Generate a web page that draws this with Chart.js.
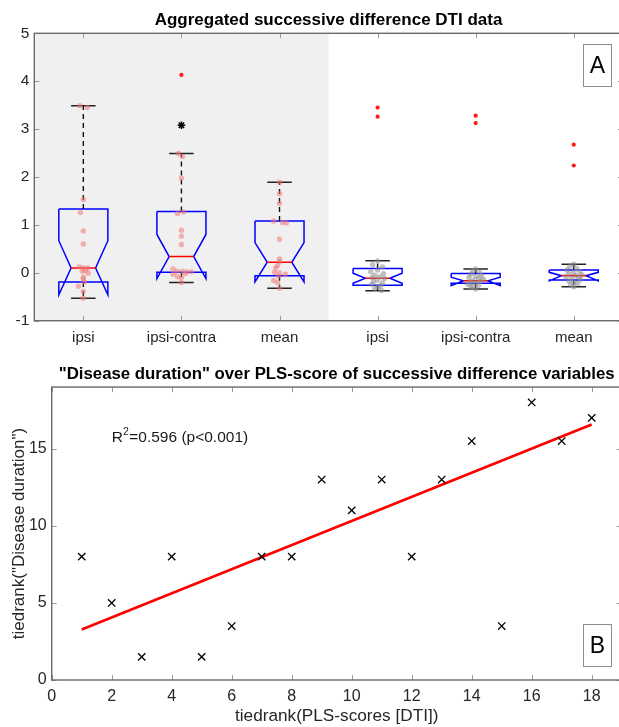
<!DOCTYPE html>
<html>
<head>
<meta charset="utf-8">
<script src="https://cdn.jsdelivr.net/npm/chart.js@4.4.1/dist/chart.umd.min.js"></script>
<style>
  html, body { margin: 0; padding: 0; background: #fff; overflow: hidden; width: 619px; height: 727px; }
  #boxChart { position: absolute; left: 0; top: 0; }
  #rankChart { position: absolute; left: 0; top: 350px; }
</style>
</head>
<body>
<canvas id="boxChart" width="630" height="350"></canvas>
<canvas id="rankChart" width="630" height="377"></canvas>
<script>
// ---- panel A: box plot statistics (one entry per group) ----
var groupNames = ["ipsi", "ipsi-contra", "mean", "ipsi", "ipsi-contra", "mean"];
var whiskerLow  = [-0.53, -0.20, -0.325, -0.375, -0.34, -0.29];
var boxQ1       = [-0.19,  0.01, -0.06,  -0.26,  -0.22, -0.15];
var notchLow    = [-0.46, -0.12, -0.19,  -0.22,  -0.27, -0.17];
var medians     = [ 0.10,  0.34,  0.22,  -0.115, -0.167, -0.06];
var notchHigh   = [ 0.67,  0.80,  0.63,  -0.01,  -0.09,  0.01];
var boxQ3       = [ 1.33,  1.28,  1.08,   0.09,  -0.013, 0.056];
var whiskerHigh = [ 3.49,  2.49,  1.89,   0.25,   0.077, 0.18];
var outlierValues = [[], [4.13], [], [3.45, 3.26], [3.28, 3.125], [2.675, 2.24]];
var starMark = [{ x: 2, y: 3.08 }];

// individual observations and their horizontal jitter (category units)
var values1 = [3.49, 3.45, 1.53, 1.26, 0.875, 0.60, 0.12, 0.10, 0.10, 0.05, 0.03, -0.01, -0.09, -0.13, -0.19, -0.28, -0.39, -0.53];
var jitter1 = [-0.035, 0.04, 0.0, -0.03, 0.0, 0.0, -0.04, 0.0, 0.045, 0.02, -0.01, 0.05, 0.0, 0.0, 0.01, -0.05, 0.0, 0.0];
var values2 = [2.49, 2.43, 1.98, 1.27, 1.24, 0.89, 0.765, 0.59, 0.08, 0.035, 0.03, 0.025, 0.02, -0.02, -0.03, -0.08, -0.10, -0.20];
var jitter2 = [-0.03, 0.01, 0.0, 0.02, -0.04, 0.0, 0.0, 0.0, -0.085, -0.044, 0.007, 0.05, 0.1, 0.04, -0.085, -0.04, 0.0, 0.0];
var values3 = [1.89, 1.65, 1.45, 1.08, 1.05, 1.04, 0.70, 0.29, 0.23, 0.15, 0.10, 0.01, 0.0, -0.03, -0.07, -0.16, -0.20, -0.32];
var jitter3 = [0.0, 0.0, 0.0, -0.06, 0.03, 0.07, 0.0, 0.0, 0.0, -0.02, -0.04, -0.05, 0.0, 0.06, -0.01, -0.06, -0.02, 0.0];
var values4 = [0.25, 0.17, 0.12, 0.06, 0.02, -0.02, -0.05, -0.08, -0.10, -0.12, -0.15, -0.18, -0.21, -0.24, -0.27, -0.30, -0.33, -0.37];
var jitter4 = [0.0, -0.05, 0.05, 0.0, -0.07, 0.06, -0.03, 0.02, -0.06, 0.07, 0.0, -0.04, 0.05, -0.06, 0.03, 0.0, -0.03, 0.04];
var values5 = [0.08, 0.04, 0.0, -0.03, -0.06, -0.08, -0.10, -0.12, -0.14, -0.16, -0.18, -0.20, -0.22, -0.24, -0.26, -0.28, -0.31, -0.34];
var jitter5 = [0.0, -0.03, 0.04, -0.05, 0.06, 0.0, -0.07, 0.03, 0.08, -0.03, 0.05, -0.06, 0.0, -0.08, 0.03, -0.03, -0.05, 0.0];
var values6 = [0.18, 0.13, 0.09, 0.06, 0.03, 0.01, -0.02, -0.04, -0.06, -0.08, -0.10, -0.12, -0.14, -0.17, -0.20, -0.22, -0.25, -0.29];
var jitter6 = [0.0, -0.04, 0.03, -0.07, 0.06, 0.0, -0.05, 0.08, 0.02, -0.08, 0.05, -0.02, 0.07, -0.05, 0.0, 0.04, -0.03, 0.0];
var yTicksA = [-1, 0, 1, 2, 3, 4, 5];

// ---- panel B: tied ranks ----
var plsRank = [1, 2, 3, 4, 5, 6, 7, 8, 9, 10, 11, 12, 13, 14, 15, 16, 17, 18];
var durationRank = [8, 5, 1.5, 8, 1.5, 3.5, 8, 8, 13, 11, 13, 8, 13, 15.5, 3.5, 18, 15.5, 17];
var fitX = [1, 18];
var fitY = [3.27, 16.57];
var xTicksB = [0, 2, 4, 6, 8, 10, 12, 14, 16, 18];
var yTicksB = [0, 5, 10, 15];
var r2Anchor = { x: 2, y: 15.45 };

Chart.defaults.font.family = '"Liberation Sans", Arial, Helvetica, sans-serif';
Chart.defaults.color = "#262626";

// frame, inward ticks, shaded half and panel letter
var panelFrame = {
    id: "panelFrame",
    beforeDraw: function (chart, args, opts) {
        if (opts.shadeTo === undefined) return;
        var a = chart.chartArea, xs = chart.scales.x, ctx = chart.ctx;
        var x0 = xs.getPixelForValue(opts.shadeFrom), x1 = xs.getPixelForValue(opts.shadeTo);
        ctx.save();
        ctx.fillStyle = "#f0f0f0";
        ctx.fillRect(x0, a.top, x1 - x0, a.bottom - a.top);
        ctx.restore();
    },
    afterDraw: function (chart, args, opts) {
        var a = chart.chartArea, ctx = chart.ctx;
        var xs = chart.scales.x, ys = chart.scales.y;
        ctx.save();
        ctx.strokeStyle = "#9a9a9a";
        ctx.lineWidth = 1;
        ctx.beginPath();
        xs.ticks.forEach(function (t) {
            var p = Math.round(xs.getPixelForValue(t.value)) + 0.5;
            ctx.moveTo(p, a.bottom); ctx.lineTo(p, a.bottom - 5);
            ctx.moveTo(p, a.top); ctx.lineTo(p, a.top + 5);
        });
        ys.ticks.forEach(function (t) {
            var p = Math.round(ys.getPixelForValue(t.value)) + 0.5;
            ctx.moveTo(a.left, p); ctx.lineTo(a.left + 5, p);
            ctx.moveTo(a.right, p); ctx.lineTo(a.right - 5, p);
        });
        ctx.stroke();
        ctx.strokeStyle = "#6a6a6a";
        ctx.lineWidth = 1.4;
        ctx.strokeRect(a.left, a.top, a.right - a.left, a.bottom - a.top);

        // letter box
        var bw = 28, bh = 42;
        var bx = a.right - opts.boxRight - bw;
        var by = opts.corner === "top" ? a.top + opts.boxGap : a.bottom - opts.boxGap - bh;
        ctx.fillStyle = "#fff";
        ctx.fillRect(bx, by, bw, bh);
        ctx.strokeStyle = "#8c8c8c";
        ctx.lineWidth = 1;
        ctx.strokeRect(bx + 0.5, by + 0.5, bw, bh);
        ctx.fillStyle = "#000";
        ctx.font = '23px "Liberation Sans", Arial, sans-serif';
        ctx.textAlign = "center";
        ctx.textBaseline = "middle";
        ctx.fillText(opts.letter, bx + bw / 2 + 0.5, by + bh / 2 + 1.5);
        ctx.restore();
    }
};

// R^2 annotation for panel B
var statsNote = {
    id: "statsNote",
    afterDatasetsDraw: function (chart) {
        var ctx = chart.ctx;
        var px = chart.scales.x.getPixelForValue(r2Anchor.x);
        var py = chart.scales.y.getPixelForValue(r2Anchor.y);
        ctx.save();
        ctx.fillStyle = "#1a1a1a";
        ctx.textBaseline = "alphabetic";
        ctx.font = '15.5px "Liberation Sans", Arial, sans-serif';
        ctx.fillText("R", px, py);
        var w = ctx.measureText("R").width;
        ctx.font = '10.5px "Liberation Sans", Arial, sans-serif';
        ctx.fillText("2", px + w, py - 6.5);
        var w2 = ctx.measureText("2").width;
        ctx.font = '15.5px "Liberation Sans", Arial, sans-serif';
        ctx.fillText("=0.596 (p<0.001)", px + w + w2 + 0.5, py);
        ctx.restore();
    }
};

// ---- build panel A datasets ----
var boxHalf = 0.25, notchHalf = 0.125, capHalf = 0.125;
var allValues = [values1, values2, values3, values4, values5, values6];
var allJitter = [jitter1, jitter2, jitter3, jitter4, jitter5, jitter6];
var boxDatasets = [];

function lineSet(points, color, width, dash, order) {
    return {
        data: points, showLine: true, pointRadius: 0, borderColor: color,
        borderWidth: width, borderDash: dash || [], fill: false, tension: 0,
        borderJoinStyle: "miter", order: order
    };
}

for (var i = 0; i < groupNames.length; i++) {
    var c = i + 1;
    boxDatasets.push({
        data: allValues[i].map(function (v, k) { return { x: c + allJitter[i][k], y: v }; }),
        pointRadius: 2.7, pointBorderWidth: 0,
        pointBackgroundColor: i < 3 ? "rgba(240,120,120,0.55)" : "rgba(140,140,140,0.55)",
        order: 0
    });
    boxDatasets.push({
        data: outlierValues[i].map(function (v) { return { x: c, y: v }; }),
        pointRadius: 2.1, pointBorderWidth: 0, pointBackgroundColor: "#ff1a1a", order: 0
    });
    boxDatasets.push(lineSet([
        { x: c - boxHalf, y: boxQ3[i] }, { x: c + boxHalf, y: boxQ3[i] },
        { x: c + boxHalf, y: notchHigh[i] }, { x: c + notchHalf, y: medians[i] },
        { x: c + boxHalf, y: notchLow[i] }, { x: c + boxHalf, y: boxQ1[i] },
        { x: c - boxHalf, y: boxQ1[i] }, { x: c - boxHalf, y: notchLow[i] },
        { x: c - notchHalf, y: medians[i] }, { x: c - boxHalf, y: notchHigh[i] },
        { x: c - boxHalf, y: boxQ3[i] }
    ], "#0000ff", 1.5, null, 2));
    boxDatasets.push(lineSet([{ x: c - notchHalf, y: medians[i] }, { x: c + notchHalf, y: medians[i] }], "#ff0000", 1.6, null, 1));
    boxDatasets.push(lineSet([{ x: c, y: boxQ3[i] }, { x: c, y: whiskerHigh[i] }], "#111", 1.4, [5, 4], 3));
    boxDatasets.push(lineSet([{ x: c, y: boxQ1[i] }, { x: c, y: whiskerLow[i] }], "#111", 1.4, [5, 4], 3));
    boxDatasets.push(lineSet([{ x: c - capHalf, y: whiskerHigh[i] }, { x: c + capHalf, y: whiskerHigh[i] }], "#222", 1.5, null, 3));
    boxDatasets.push(lineSet([{ x: c - capHalf, y: whiskerLow[i] }, { x: c + capHalf, y: whiskerLow[i] }], "#222", 1.5, null, 3));
}
boxDatasets.push({
    data: starMark, pointStyle: "star", pointRadius: 3.8, borderColor: "#000",
    pointBorderWidth: 1.5, order: 0
});

new Chart(document.getElementById("boxChart"), {
    type: "scatter",
    data: { datasets: boxDatasets },
    plugins: [panelFrame],
    options: {
        responsive: false,
        animation: false,
        events: [],
        layout: { padding: { top: 0, right: 7.2, left: 0, bottom: 0 } },
        plugins: {
            legend: { display: false },
            tooltip: { enabled: false },
            title: {
                display: true, fullSize: false,
                text: "Aggregated successive difference DTI data",
                font: { size: 17, weight: "bold" }, color: "#000",
                padding: { top: 9.9, bottom: 3 }
            },
            panelFrame: { shadeFrom: 0.5, shadeTo: 3.5, letter: "A", corner: "top", boxRight: 11.8, boxGap: 10.7 }
        },
        scales: {
            x: {
                type: "linear", min: 0.5, max: 6.5,
                grid: { display: false, drawTicks: false }, border: { display: false },
                afterBuildTicks: function (s) { s.ticks = groupNames.map(function (n, k) { return { value: k + 1 }; }); },
                afterFit: function (s) { s.height = 29.3; },
                ticks: {
                    callback: function (v) { return groupNames[v - 1]; },
                    autoSkip: false, maxRotation: 0, padding: 8, font: { size: 15 }
                }
            },
            y: {
                min: -1, max: 5,
                grid: { display: false, drawTicks: false }, border: { display: false },
                afterBuildTicks: function (s) { s.ticks = yTicksA.map(function (v) { return { value: v }; }); },
                afterFit: function (s) { s.width = 34.3; },
                ticks: { padding: 5, font: { size: 15.5 } }
            }
        }
    }
});

// ---- panel B ----
new Chart(document.getElementById("rankChart"), {
    type: "scatter",
    data: {
        datasets: [
            {
                data: plsRank.map(function (x, k) { return { x: x, y: durationRank[k] }; }),
                pointStyle: "crossRot", pointRadius: 5.2, borderColor: "#000",
                pointBorderWidth: 1.3, order: 0
            },
            {
                data: fitX.map(function (x, k) { return { x: x, y: fitY[k] }; }),
                showLine: true, pointRadius: 0, borderColor: "#ff0000", borderWidth: 2.7, order: 1
            }
        ]
    },
    plugins: [panelFrame, statsNote],
    options: {
        responsive: false,
        animation: false,
        events: [],
        layout: { padding: { top: 0, right: 8.3, left: 0, bottom: 0 } },
        plugins: {
            legend: { display: false },
            tooltip: { enabled: false },
            title: {
                display: true, fullSize: false,
                text: '"Disease duration" over PLS-score of successive difference variables',
                font: { size: 16.8, weight: "bold" }, color: "#000",
                padding: { top: 13.9, bottom: 3 }
            },
            panelFrame: { letter: "B", corner: "bottom", boxRight: 10.7, boxGap: 14 }
        },
        scales: {
            x: {
                type: "linear", min: 0, max: 19,
                grid: { display: false, drawTicks: false }, border: { display: false },
                afterBuildTicks: function (s) { s.ticks = xTicksB.map(function (v) { return { value: v }; }); },
                afterFit: function (s) { s.height = 47; },
                ticks: { padding: 6.6, font: { size: 16 }, autoSkip: false, maxRotation: 0 },
                title: {
                    display: true, text: "tiedrank(PLS-scores [DTI])",
                    font: { size: 17.2 }, color: "#262626", padding: { top: 0, bottom: 0 }
                }
            },
            y: {
                min: 0, max: 19,
                grid: { display: false, drawTicks: false }, border: { display: false },
                afterBuildTicks: function (s) { s.ticks = yTicksB.map(function (v) { return { value: v }; }); },
                afterFit: function (s) { s.width = 51.7; },
                ticks: { padding: 5, font: { size: 16 } },
                title: {
                    display: true, text: 'tiedrank("Disease duration")',
                    font: { size: 17 }, color: "#262626", padding: { top: 8.8, bottom: 0 }
                }
            }
        }
    }
});
</script>
</body>
</html>
